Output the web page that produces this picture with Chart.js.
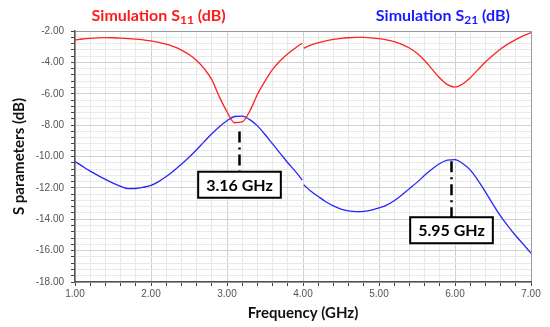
<!DOCTYPE html>
<html>
<head>
<meta charset="utf-8">
<script src="https://cdn.jsdelivr.net/npm/chart.js@4.4.1/dist/chart.umd.min.js"></script>
<style>
  html, body { margin: 0; padding: 0; background: #fff; }
  #wrap { width: 550px; height: 327px; }
</style>
</head>
<body>
<div id="wrap"><canvas id="chart" width="550" height="327"></canvas></div>
<script>
// frequency samples (GHz); the null entry at 4.00 breaks both traces like the original
const freqGHz = [1.0, 1.1, 1.2, 1.3, 1.4, 1.5, 1.6, 1.7, 1.8, 1.9, 2.0, 2.1, 2.2, 2.3, 2.4, 2.5, 2.6, 2.7, 2.8, 2.9,
  3.0, 3.1, 3.2, 3.3, 3.4, 3.5, 3.6, 3.7, 3.8, 3.9, 3.99,
  4.0,
  4.01, 4.1, 4.2, 4.3, 4.4, 4.5, 4.6, 4.7, 4.8, 4.9, 5.0, 5.1, 5.2, 5.3, 5.4, 5.5, 5.6, 5.7, 5.8, 5.9,
  6.0, 6.1, 6.2, 6.3, 6.4, 6.5, 6.6, 6.7, 6.8, 6.9, 7.0];

const s11dB = [-2.57, -2.51, -2.47, -2.44, -2.42, -2.43, -2.45, -2.48, -2.52, -2.57, -2.63, -2.72, -2.84, -3.0, -3.22, -3.5, -3.88, -4.4, -5.1, -6.2,
  -7.15, -7.85, -7.8, -7.1, -6.05, -5.2, -4.45, -3.9, -3.45, -3.08, -2.78,
  null,
  -3.1, -2.9, -2.75, -2.63, -2.54, -2.47, -2.43, -2.41, -2.41, -2.44, -2.49, -2.57, -2.68, -2.85, -3.08, -3.42, -3.88, -4.45, -5.0, -5.42,
  -5.58, -5.38, -4.98, -4.48, -3.98, -3.55, -3.15, -2.82, -2.55, -2.3, -2.1];

const s21dB = [-10.32, -10.63, -10.93, -11.2, -11.46, -11.7, -11.9, -12.05, -12.04, -11.96, -11.84, -11.6, -11.28, -10.9, -10.5, -10.05, -9.57, -9.05, -8.55, -8.1,
  -7.72, -7.45, -7.42, -7.65, -8.05, -8.6, -9.2, -9.8, -10.4, -10.95, -11.5,
  null,
  -11.8, -12.2, -12.55, -12.88, -13.15, -13.35, -13.47, -13.52, -13.5, -13.42, -13.28, -13.1, -12.82, -12.45, -12.05, -11.65, -11.2, -10.8, -10.45, -10.23,
  -10.2, -10.45, -10.85, -11.5, -12.25, -13.05, -13.8, -14.45, -15.05, -15.6, -16.16];

// resonance markers: frequency, label, where the dash-dot starts, where the box sits (dB)
const markerFreq = [3.16, 5.95];
const markerText = ["3.16 GHz", "5.95 GHz"];
const markerTopDb = [-8.4, -10.3];
const markerBoxDb = [-11.8, -14.7];

const titleS11 = { pre: "Simulation S", sub: "11", post: " (dB)", at: 2.1, color: "#ff1a1a" };
const titleS21 = { pre: "Simulation S", sub: "21", post: " (dB)", at: 5.84, color: "#1a1aff" };

const FONT = "Lato, 'Open Sans', sans-serif";

function isWhole(v, step) {
  const q = v / step;
  return Math.abs(q - Math.round(q)) < 1e-6;
}

function toPoints(ys) {
  return freqGHz.map((f, i) => ({ x: f, y: ys[i] }));
}

// draws the two coloured headings and the frequency call-outs
const decorations = {
  id: "decorations",
  afterDatasetsDraw(chart) {
    const { ctx, scales } = chart;
    const x = scales.x, y = scales.y;

    for (const t of [titleS11, titleS21]) {
      ctx.save();
      ctx.fillStyle = t.color;
      const big = "bold 16px " + FONT, small = "bold 12px " + FONT;
      ctx.font = big;
      const w1 = ctx.measureText(t.pre).width, w3 = ctx.measureText(t.post).width;
      ctx.font = small;
      const w2 = ctx.measureText(t.sub).width;
      let cx = x.getPixelForValue(t.at) - (w1 + w2 + w3) / 2;
      const base = 21;
      ctx.textBaseline = "alphabetic";
      ctx.font = big; ctx.fillText(t.pre, cx, base); cx += w1;
      ctx.font = small; ctx.fillText(t.sub, cx, base + 3); cx += w2;
      ctx.font = big; ctx.fillText(t.post, cx, base);
      ctx.restore();
    }

    markerFreq.forEach((f, i) => {
      const px = Math.round(x.getPixelForValue(f)) + 0.5;
      const yTop = y.getPixelForValue(markerTopDb[i]);
      const yBox = y.getPixelForValue(markerBoxDb[i]);
      ctx.save();
      ctx.font = "bold 16px " + FONT;
      const tw = ctx.measureText(markerText[i]).width;
      const bw = tw + 16, bh = 26;
      const bx = px - bw / 2, by = yBox - bh / 2;

      ctx.strokeStyle = "#000";
      ctx.lineWidth = 2.5;
      ctx.setLineDash([11, 5, 2, 5]);
      ctx.beginPath();
      ctx.moveTo(px, yTop);
      ctx.lineTo(px, by);
      ctx.stroke();

      ctx.setLineDash([]);
      ctx.lineWidth = 2;
      ctx.fillStyle = "#fff";
      ctx.fillRect(bx, by, bw, bh);
      ctx.strokeRect(bx, by, bw, bh);
      ctx.fillStyle = "#000";
      ctx.textAlign = "center";
      ctx.textBaseline = "middle";
      ctx.fillText(markerText[i], px, by + bh / 2 + 1);
      ctx.restore();
    });
  }
};

new Chart(document.getElementById("chart"), {
  type: "line",
  data: {
    datasets: [
      { label: "S11", data: toPoints(s11dB), borderColor: "#ff2222", borderWidth: 1.3,
        pointRadius: 0, cubicInterpolationMode: "monotone", spanGaps: false },
      { label: "S21", data: toPoints(s21dB), borderColor: "#2626ff", borderWidth: 1.3,
        pointRadius: 0, cubicInterpolationMode: "monotone", spanGaps: false }
    ]
  },
  options: {
    responsive: false,
    animation: false,
    layout: { padding: { top: 31, right: 19, left: 0, bottom: 0 } },
    plugins: { legend: { display: false }, tooltip: { enabled: false } },
    scales: {
      x: {
        type: "linear", min: 1, max: 7,
        afterFit: (s) => { s.height = 45; },
        ticks: {
          stepSize: 0.2, autoSkip: false, maxRotation: 0, padding: 2,
          color: "#555", font: { family: "'Liberation Sans', Arial, sans-serif", size: 10 },
          callback: (v) => isWhole(v, 1) ? Number(v).toFixed(2) : ""
        },
        grid: {
          tickLength: 4, tickColor: "#444",
          color: (c) => c.tick && Math.abs(c.tick.value - 7) < 1e-6 ? "#999" :
            (c.tick && isWhole(c.tick.value, 1) ? "#d0d0d0" : "#e9e9e9")
        },
        border: { color: "#555", width: 1.5 },
        title: { display: true, text: "Frequency (GHz)", color: "#111",
          font: { family: FONT, size: 15, weight: "bold" }, padding: { top: 4, bottom: 5 } }
      },
      y: {
        min: -18, max: -2,
        afterFit: (s) => { s.width = 75; },
        ticks: {
          stepSize: 0.4, autoSkip: false, padding: 7,
          color: "#555", font: { family: "'Liberation Sans', Arial, sans-serif", size: 10 },
          callback: (v) => isWhole(v, 2) ? Number(v).toFixed(2) : ""
        },
        grid: {
          tickLength: 4, tickColor: "#444",
          color: (c) => c.tick && Math.abs(c.tick.value + 2) < 1e-6 ? "#999" :
            (c.tick && isWhole(c.tick.value, 2) ? "#d0d0d0" : "#e9e9e9")
        },
        border: { color: "#555", width: 1.5 },
        title: { display: true, text: "S parameters (dB)", color: "#111",
          font: { family: FONT, size: 15, weight: "bold" }, padding: { top: 10, bottom: 4 } }
      }
    }
  },
  plugins: [decorations]
});
</script>
</body>
</html>
